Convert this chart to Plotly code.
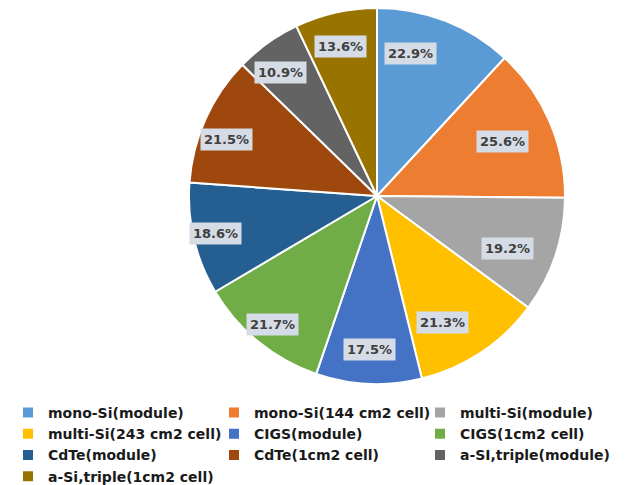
import math
import plotly.graph_objects as go

categories = ["mono-Si(module)", "mono-Si(144 cm2 cell)", "multi-Si(module)",
              "multi-Si(243 cm2 cell)", "CIGS(module)", "CIGS(1cm2 cell)",
              "CdTe(module)", "CdTe(1cm2 cell)", "a-SI,triple(module)",
              "a-Si,triple(1cm2 cell)"]
values = [22.9, 25.6, 19.2, 21.3, 17.5, 21.7, 18.6, 21.5, 10.9, 13.6]
labels_text = ["22.9%", "25.6%", "19.2%", "21.3%", "17.5%", "21.7%",
               "18.6%", "21.5%", "10.9%", "13.6%"]
colors = ["#5B9BD5", "#ED7D31", "#A5A5A5", "#FFC000", "#4472C4", "#70AD47",
          "#255E91", "#9E480E", "#636363", "#997300"]

# page body has an 8px margin, so the figure is 8px smaller than the window
W, H = 617, 477
cx, cy, R = 369, 188, 188  # pie center / radius in figure pixels
dom_x = [(cx - R) / W, (cx + R) / W]
dom_y = [1 - (cy + R) / H, 1 - (cy - R) / H]

fig = go.Figure()
fig.add_trace(go.Pie(
    labels=categories, values=values, sort=False, direction="clockwise",
    rotation=0, marker=dict(colors=colors, line=dict(color="white", width=2)),
    textinfo="none", hoverinfo="label+value",
    domain=dict(x=dom_x, y=dom_y),
))

# data labels with background boxes, placed along each slice bisector
total = sum(values)
cum = 0.0
for v, t in zip(values, labels_text):
    ang = math.radians((cum + v / 2) / total * 360)
    cum += v
    k = 0.88
    px = cx + k * R * math.sin(ang)
    py = cy - k * R * math.cos(ang)
    fig.add_annotation(
        x=px / W, y=1 - py / H, xref="paper", yref="paper", text=t,
        showarrow=False, bgcolor="#D6DCE5", borderpad=3,
        font=dict(family="DejaVu Sans", size=13, color="#404040", weight="bold"),
    )

fig.update_layout(
    width=W, height=H,
    margin=dict(l=0, r=0, t=0, b=0, autoexpand=False),
    paper_bgcolor="white", plot_bgcolor="white",
    legend=dict(orientation="h", x=0.0, xanchor="left", y=1 - 389 / H,
                yanchor="top", traceorder="normal",
                entrywidth=161, entrywidthmode="pixels", itemwidth=30,
                font=dict(family="DejaVu Sans", size=14, color="#1a1a1a",
                          weight="bold")),
    showlegend=True,
)

fig.write_html("out.html")
